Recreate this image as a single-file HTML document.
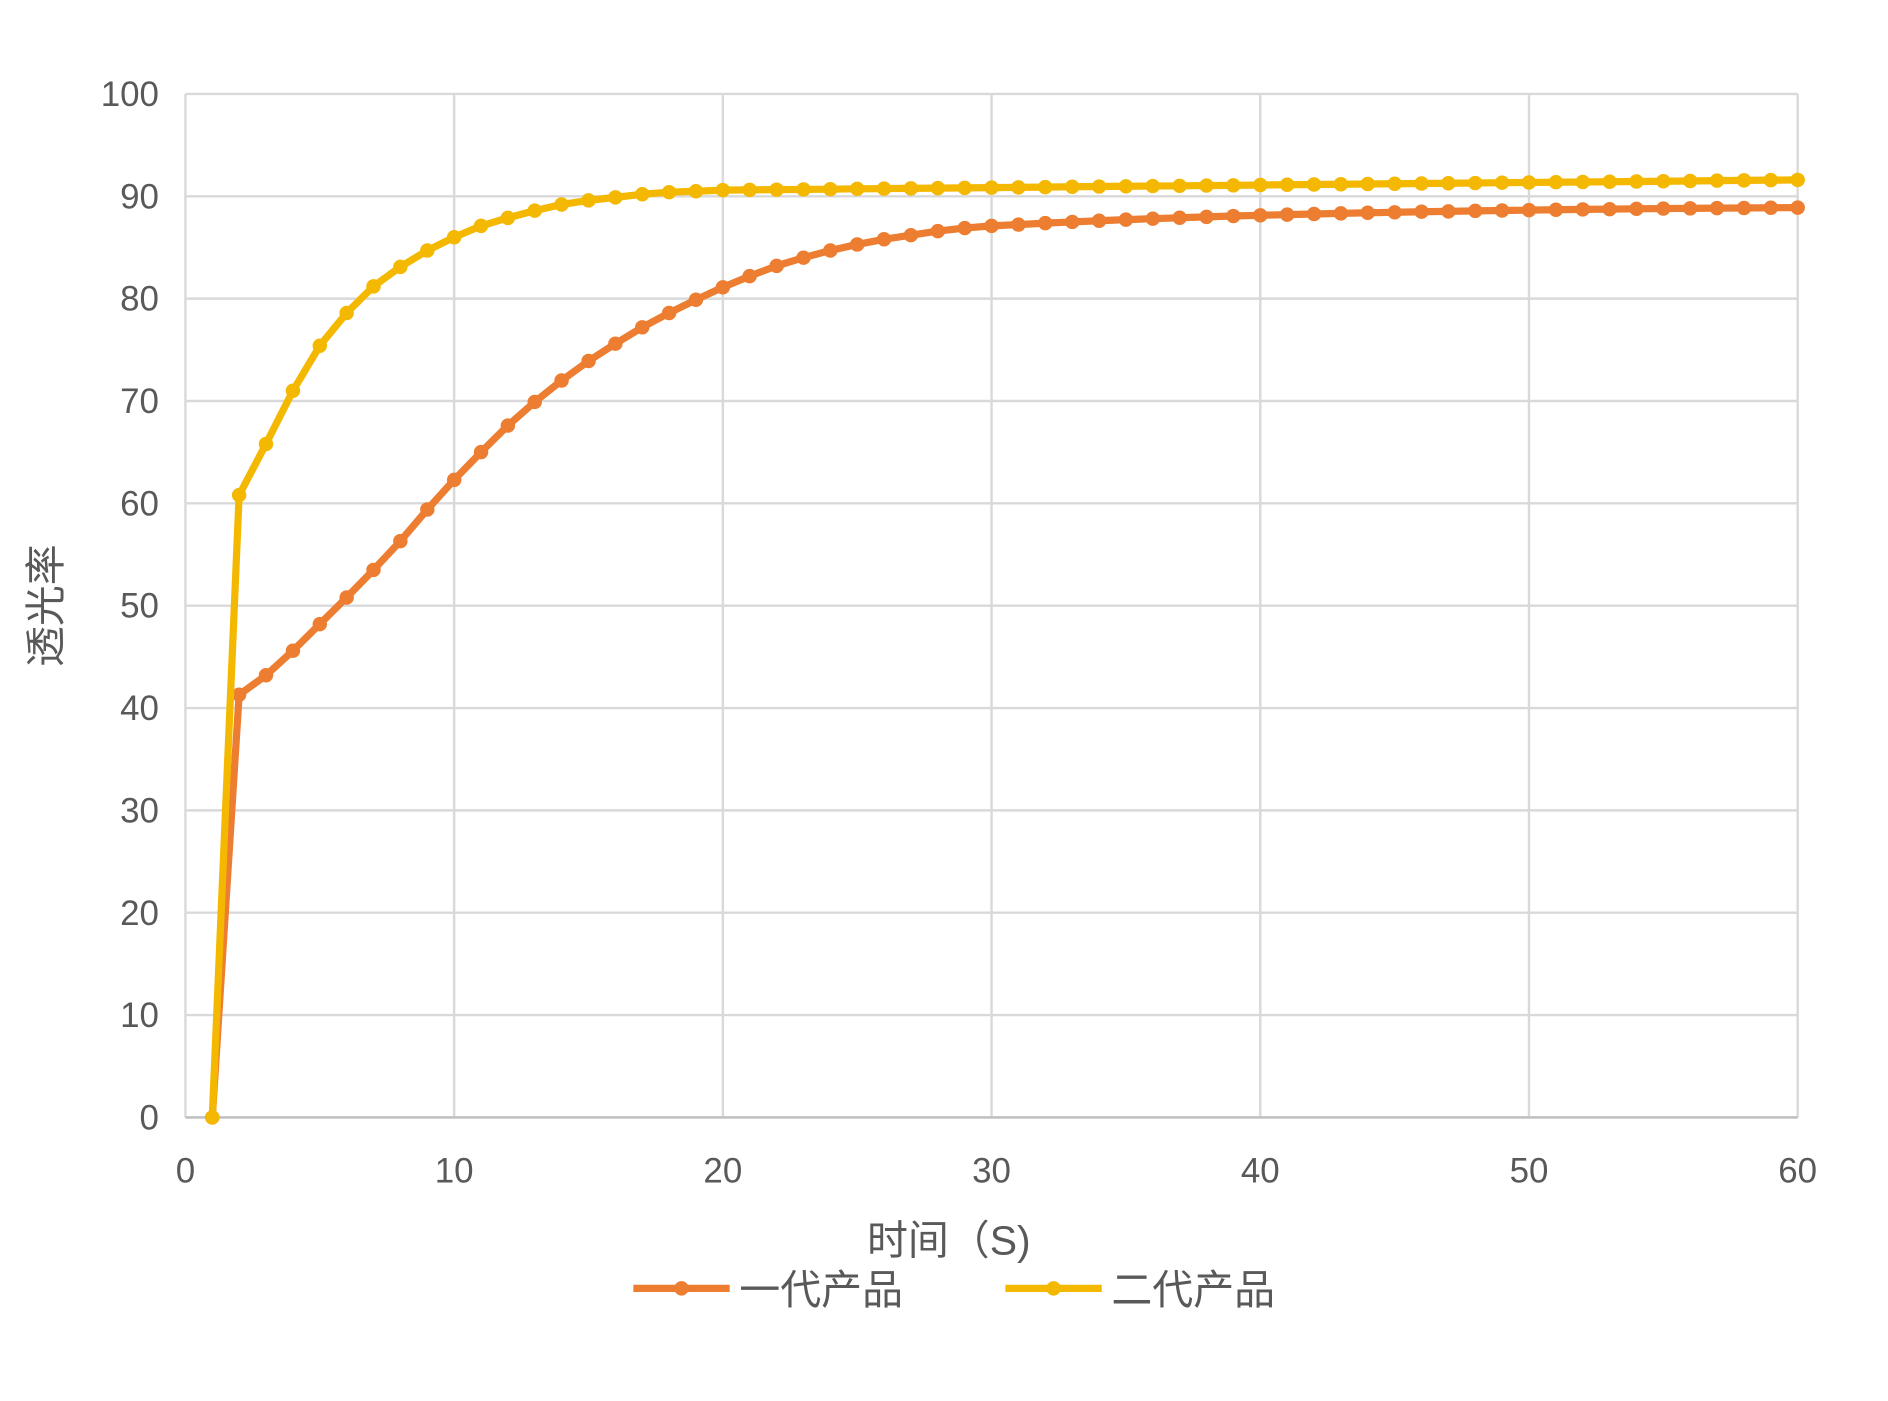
<!DOCTYPE html>
<html><head><meta charset="utf-8"><style>
html,body{margin:0;padding:0;background:#fff;}
svg{display:block;}
text{font-family:"Liberation Sans","Noto Sans CJK SC",sans-serif;fill:#595959;}
</style></head><body>
<svg id="c" width="1888" height="1401" viewBox="0 0 1568 1163.5" xmlns="http://www.w3.org/2000/svg">
<rect width="1568" height="1163.5" fill="#fff"/>
<g id="grid"></g>
<g id="series"></g>
<text x="50" y="503" font-size="34" text-anchor="middle" transform="rotate(-90 50 503)">透光率</text>
<text x="788" y="1042" font-size="34" text-anchor="middle">时间（S)</text>
<line x1="526" y1="1070" x2="606" y2="1070" stroke="#ed7d31" stroke-width="6"/>
<circle cx="566" cy="1070" r="6" fill="#ed7d31"/>
<text x="614" y="1083" font-size="34">一代产品</text>
<line x1="835" y1="1070" x2="915" y2="1070" stroke="#f4b800" stroke-width="6"/>
<circle cx="875" cy="1070" r="6" fill="#f4b800"/>
<text x="923" y="1083" font-size="34">二代产品</text>
</svg>
<script>
var L=154,R=1493,T=78,B=928;
function X(v){return L+(R-L)*v/60}function Y(v){return B-(B-T)*v/100}
var g=document.getElementById('grid'),h='';
for(var i=0;i<=10;i++){var y=Y(i*10);h+='<line x1="'+L+'" y1="'+y+'" x2="'+R+'" y2="'+y+'" stroke="#d9d9d9" stroke-width="2"/>';
h+='<text x="'+(L-22)+'" y="'+(y+10)+'" font-size="29" text-anchor="end">'+(i*10)+'</text>';}
for(var i=0;i<=6;i++){var x=X(i*10);h+='<line x1="'+x+'" y1="'+T+'" x2="'+x+'" y2="'+B+'" stroke="#d9d9d9" stroke-width="2"/>';
h+='<text x="'+x+'" y="'+(B+54)+'" font-size="29" text-anchor="middle">'+(i*10)+'</text>';}
h+='<line x1="'+L+'" y1="'+B+'" x2="'+R+'" y2="'+B+'" stroke="#bfbfbf" stroke-width="2"/>';
g.innerHTML=h;
var o=[0,41.3,43.2,45.6,48.2,50.8,53.5,56.3,59.4,62.3,65,67.6,69.9,72,73.9,75.6,77.2,78.6,79.9,81.1,82.2,83.2,84,84.7,85.3,85.8,86.2,86.6,86.9,87.1];
var yv=[0,60.8,65.8,71,75.4,78.6,81.2,83.1,84.7,86,87.1,87.9,88.6,89.2,89.6,89.9,90.2,90.4,90.5,90.6];
for(var i=31;i<=60;i++)o.push(87.1+(88.9-87.1)*(1-Math.exp(-(i-30)/14))/(1-Math.exp(-30/14)));
for(var i=21;i<=60;i++)yv.push(90.6+(91.6-90.6)*(i-20)/40);
function draw(d,c){var p='',s='';d.forEach(function(v,k){var x=X(k+1),y=Y(v);p+=(k?'L':'M')+x.toFixed(1)+','+y.toFixed(1);
s+='<circle cx="'+x.toFixed(1)+'" cy="'+y.toFixed(1)+'" r="6" fill="'+c+'"/>';});
return '<path d="'+p+'" fill="none" stroke="'+c+'" stroke-width="6" stroke-linejoin="round"/>'+s;}
document.getElementById('series').innerHTML=draw(o,'#ed7d31')+draw(yv,'#f4b800');
</script>
</body></html>
